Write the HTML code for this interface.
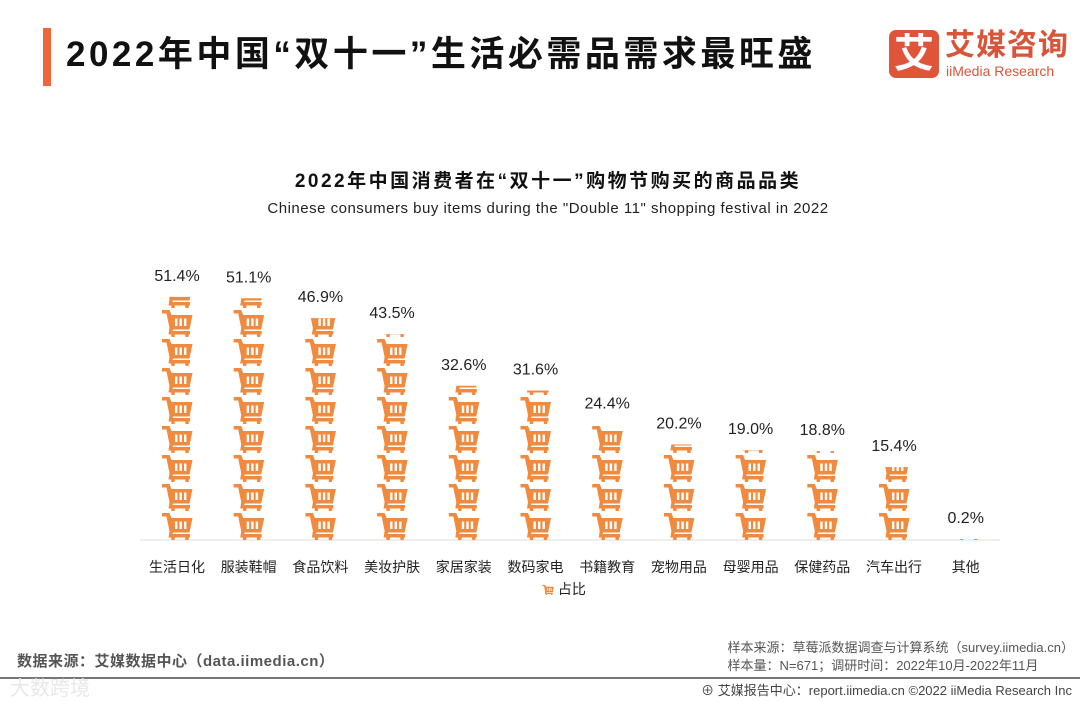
<!DOCTYPE html>
<html><head><meta charset="utf-8">
<style>
body{margin:0;background:#fff;font-family:"Liberation Sans","Noto Sans CJK SC",sans-serif;}
#wrap{position:relative;width:1080px;height:702px;overflow:hidden;background:#fff}
.t{position:absolute;white-space:nowrap}
</style></head><body>
<div id="wrap">
<div class="t" style="left:43px;top:28px;width:8px;height:58px;background:#f0663a"></div>
<div class="t" style="left:66px;top:30px;font-size:35px;font-weight:bold;color:#111;line-height:50px;letter-spacing:3.5px">2022年中国“双十一”生活必需品需求最旺盛</div>
<div class="t" style="left:889px;top:30px;width:50px;height:48px;background:#e0553a;border-radius:7px;color:#fff;font-size:40px;font-weight:bold;text-align:center;line-height:48px">艾</div>
<div class="t" style="left:945px;top:28px;font-size:30px;font-weight:bold;color:#d9553a;line-height:36px;letter-spacing:1px">艾媒咨询</div>
<div class="t" style="left:946px;top:62px;font-size:14px;color:#d9553a;line-height:18px">iiMedia Research</div>
<div class="t" style="left:0;width:1096px;text-align:center;top:166px;font-size:19px;font-weight:bold;color:#111;letter-spacing:2.5px">2022年中国消费者在“双十一”购物节购买的商品品类</div>
<div class="t" style="left:0;width:1096px;text-align:center;top:200px;font-size:15px;color:#222;letter-spacing:0.5px">Chinese consumers buy items during the "Double 11" shopping festival in 2022</div>
<svg id="chart" width="1080" height="702" style="position:absolute;left:0;top:0">
<defs>
<symbol id="cart" viewBox="0 0 32 29">
<path d="M1 2 L8.5 2 L10.5 7 L31.5 7 L28.5 21.5 L12 21.5 L11.5 23 L29 23 L29 26.5 L7.5 26.5 L8.5 20 L5.5 5.5 L1 5.5 Z" fill="#f08a3e"/>
<rect x="14" y="10.5" width="2.4" height="7.5" fill="#fff"/><rect x="18.5" y="10.5" width="2.4" height="7.5" fill="#fff"/><rect x="23" y="10.5" width="2.4" height="7.5" fill="#fff"/>
<circle cx="12" cy="27.6" r="1.8" fill="#f08a3e"/><circle cx="26" cy="27.6" r="1.8" fill="#f08a3e"/>
</symbol>
</defs>
<line x1="140" y1="540" x2="1000" y2="540" stroke="#ddd" stroke-width="1"/>
</svg>
<div class="t" style="left:542px;top:579px;font-size:14px;color:#222"><svg width="12" height="11" style="vertical-align:-1px"><use href="#cart" width="12" height="11"/></svg> 占比</div>
<div class="t" style="left:17px;top:650px;font-size:15px;color:#555;font-weight:bold;letter-spacing:0.5px">数据来源：艾媒数据中心（data.iimedia.cn）</div>
<div class="t" style="right:6px;top:639px;font-size:13px;color:#555;line-height:18px;text-align:left">样本来源：草莓派数据调查与计算系统（survey.iimedia.cn）<br>样本量：N=671；调研时间：2022年10月-2022年11月</div>
<div class="t" style="left:0;top:677px;width:1080px;height:2px;background:#777"></div>
<div class="t" style="left:10px;top:672px;font-size:20px;color:#e8e8e8">大数跨境</div>
<div class="t" style="right:8px;top:680px;font-size:13px;color:#444">⊕ 艾媒报告中心：report.iimedia.cn  ©2022  iiMedia Research  Inc</div>
</div>
<script>
const categories=["生活日化","服装鞋帽","食品饮料","美妆护肤","家居家装","数码家电","书籍教育","宠物用品","母婴用品","保健药品","汽车出行","其他"];
const values=[51.4,51.1,46.9,43.5,32.6,31.6,24.4,20.2,19.0,18.8,15.4,0.2];
const valueLabels=["51.4%","51.1%","46.9%","43.5%","32.6%","31.6%","24.4%","20.2%","19.0%","18.8%","15.4%","0.2%"];
const NS="http://www.w3.org/2000/svg";
const svg=document.getElementById('chart');
const base=540, pxPer=4.73, x0=177, step=71.7, iconH=29, iconW=34;
const xs=i=>x0+i*step;
const ys=v=>base-v*pxPer;
values.forEach((v,i)=>{
  const cx=xs(i), top=ys(v), h=base-top;
  const cp=document.createElementNS(NS,'clipPath');cp.setAttribute('id','c'+i);
  const r=document.createElementNS(NS,'rect');r.setAttribute('x',cx-iconW/2);r.setAttribute('y',top);r.setAttribute('width',iconW);r.setAttribute('height',h);
  cp.appendChild(r);svg.querySelector('defs').appendChild(cp);
  const g=document.createElementNS(NS,'g');
  
  
  g.setAttribute('clip-path','url(#c'+i+')');
  const n=Math.ceil(h/iconH);
  for(let k=0;k<n;k++){
    const u=document.createElementNS(NS,'use');
    u.setAttribute('href','#cart');u.setAttribute('x',cx-iconW/2);u.setAttribute('y',base-(k+1)*iconH);
    u.setAttribute('width',iconW);u.setAttribute('height',iconH);g.appendChild(u);
  }
  svg.appendChild(g);
  const t=document.createElementNS(NS,'text');
  
  
  t.setAttribute('x',cx);t.setAttribute('y',top-16);t.setAttribute('text-anchor','middle');
  t.setAttribute('font-size','16');t.setAttribute('fill','#222');t.textContent=valueLabels[i];svg.appendChild(t);
  const c=document.createElementNS(NS,'text');
  
  
  c.setAttribute('x',cx);c.setAttribute('y',572);c.setAttribute('text-anchor','middle');
  c.setAttribute('font-size','14');c.setAttribute('fill','#222');c.textContent=categories[i];svg.appendChild(c);
});
</script>
</body></html>
